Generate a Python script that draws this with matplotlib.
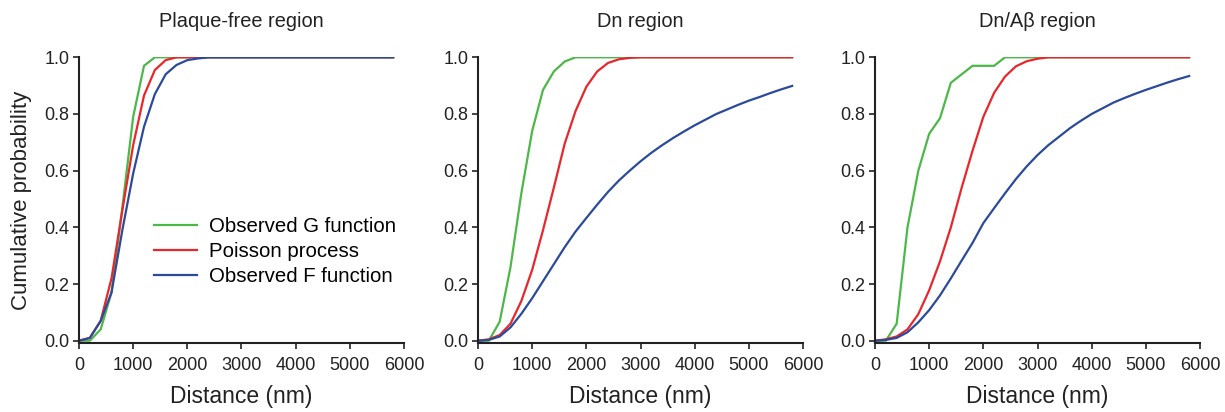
import matplotlib
matplotlib.use("Agg")
import matplotlib.pyplot as plt
from matplotlib import ticker

plt.rcParams["font.family"] = ["Liberation Sans", "DejaVu Sans"]

distance = list(range(0, 6000, 200))

titles = ["Plaque-free region", "Dn region", "Dn/A\u03b2 region"]
labels = ["Observed G function", "Poisson process", "Observed F function"]
colors = ["#4cb848", "#e8262b", "#2b4a9c"]

# plaque-free region
pf_g = [0, 0.0, 0.04, 0.17, 0.47, 0.79, 0.97, 1.0] + [1.0] * 22
pf_poisson = [0, 0.01, 0.07, 0.22, 0.46, 0.69, 0.865, 0.955, 0.99, 1.0] + [1.0] * 20
pf_f = [0, 0.01, 0.07, 0.17, 0.39, 0.59, 0.755, 0.87, 0.94, 0.973, 0.99, 0.996,
        1.0] + [1.0] * 17

# Dn region
dn_g = [0, 0.0, 0.067, 0.26, 0.52, 0.74, 0.885, 0.95, 0.985, 1.0] + [1.0] * 20
dn_poisson = [0, 0.005, 0.02, 0.06, 0.14, 0.25, 0.39, 0.54, 0.695, 0.81, 0.896,
              0.95, 0.98, 0.993, 0.998, 1.0] + [1.0] * 14
dn_f = [0, 0.003, 0.015, 0.047, 0.095, 0.15, 0.21, 0.27, 0.33, 0.385, 0.433,
        0.48, 0.525, 0.565, 0.60, 0.633, 0.663, 0.69, 0.715, 0.738, 0.76,
        0.78, 0.80, 0.816, 0.832, 0.847, 0.86, 0.874, 0.887, 0.899]

# Dn/Abeta region
da_g = [0, 0.0, 0.06, 0.40, 0.60, 0.73, 0.785, 0.91, 0.94, 0.97, 0.97, 0.97,
        1.0] + [1.0] * 17
da_poisson = [0, 0.005, 0.015, 0.04, 0.094, 0.178, 0.28, 0.40, 0.54, 0.67,
              0.79, 0.875, 0.932, 0.968, 0.986, 0.995, 1.0] + [1.0] * 13
da_f = [0, 0.003, 0.01, 0.03, 0.065, 0.108, 0.16, 0.22, 0.283, 0.345, 0.415,
        0.468, 0.52, 0.57, 0.615, 0.655, 0.69, 0.72, 0.75, 0.776, 0.80, 0.82,
        0.84, 0.856, 0.871, 0.885, 0.898, 0.911, 0.923, 0.934]

panels = [
    (pf_g, pf_poisson, pf_f),
    (dn_g, dn_poisson, dn_f),
    (da_g, da_poisson, da_f),
]

fig = plt.figure(figsize=(12.25, 4.12), dpi=100)
lefts = [79, 478, 875]
axw = 325 / 1225
bottom = 1 - 343 / 412
axh = (343 - 57.3) / 412

for i, (left, series) in enumerate(zip(lefts, panels)):
    ax = fig.add_axes([left / 1225, bottom, axw, axh])
    for y, c, lab in zip(series, colors, labels):
        ax.plot(distance, y, color=c, lw=1.6, label=lab)
    ax.set_xlim(0, 6000)
    ax.set_ylim(-0.008, 1.0)
    ax.xaxis.set_major_locator(ticker.MultipleLocator(1000))
    ax.yaxis.set_major_locator(ticker.MultipleLocator(0.2))
    ax.yaxis.set_major_formatter(ticker.FormatStrFormatter("%.1f"))
    for s in ["top", "right"]:
        ax.spines[s].set_visible(False)
    for s in ["left", "bottom"]:
        ax.spines[s].set_linewidth(1.5)
        ax.spines[s].set_color("#222222")
    ax.tick_params(direction="out", length=4, width=1.2, labelsize=13,
                   color="#222222", labelcolor="#222222")
    ax.tick_params(axis="x", pad=6)
    ax.tick_params(axis="y", pad=3)
    ax.set_title(titles[i], fontsize=14.4, pad=22, color="#222222")
    ax.set_xlabel("Distance (nm)", fontsize=16.5, labelpad=8, color="#222222")
    if i == 0:
        ax.set_ylabel("Cumulative probability", fontsize=16, labelpad=9,
                      color="#222222")
        ax.legend(loc="center left", bbox_to_anchor=(0.2, 0.32), frameon=False,
                  fontsize=14.7, handlelength=2.1, handletextpad=0.6,
                  labelspacing=0.28, borderpad=0)

fig.savefig("out.png", dpi=100)
